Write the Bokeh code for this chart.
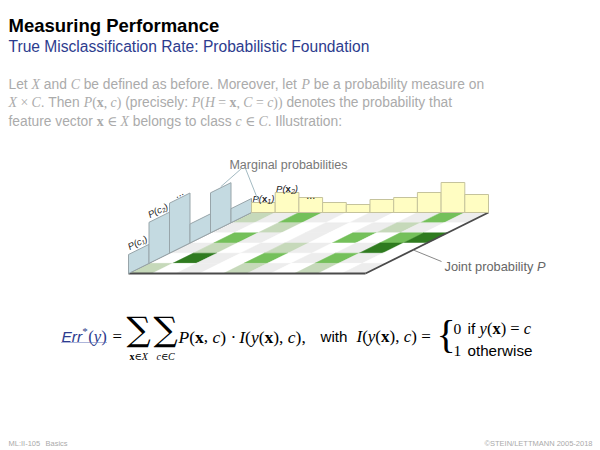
import math
from bokeh.plotting import figure
from bokeh.models import Range1d
from bokeh.core.properties import value
from bokeh.embed import file_html
from bokeh.resources import INLINE

# ---------------- data ----------------
class_marginals = [19, 41, 50, 19, 40, 14]          # P(c1) (front) ... P(c6) (back)
feature_marginals = [10, 20, 15, 10, 8, 13, 15, 20, 30, 18]   # P(x1) ... P(x10)
class_labels = ["P(c₁)", "P(c₂)", "..."]
feature_labels = ["1", "2", None]                    # subscripts for P(x_i); None -> "..."
# joint probability levels: rows from back (c6) to front (c1), columns x1..x10
# 0 white, 1 light grey, 2 pale green, 3 green, 4 dark green
joint_levels = [
    [2, 1, 3, 1, 0, 1, 0, 1, 3, 1],
    [1, 0, 2, 0, 1, 0, 1, 2, 1, 0],
    [0, 3, 1, 0, 1, 0, 3, 0, 3, 4],
    [1, 2, 0, 1, 2, 1, 0, 1, 4, 0],
    [0, 4, 1, 0, 3, 0, 1, 3, 1, 0],
    [2, 0, 1, 0, 2, 1, 0, 2, 0, 1],
]
level_colors = ["#ffffff", "#ededed", "#c6d9ba", "#74c05a", "#2f7b1f"]

title = "Measuring Performance"
subtitle = "True Misclassification Rate: Probabilistic Foundation"

# ---------------- font metrics (Arial / Times compatible) ----------------
def table(spec):
    t = {}
    for w, chars in spec.items():
        for ch in chars:
            t[ch] = w / 1000.0
    return t

ARIAL = table({278: " !,./:;If t[]\\", 222: "ijl'", 333: "()-r{}", 500: "cksvxyzJ?*",
               556: "abdeghnopquL_$0123456789", 584: "=+<>", 611: "FTZ", 667: "ABEKPSVXY",
               722: "CDHNRUw", 778: "GOQ", 833: "Mm", 944: "W", 737: "©"})
ARIALB = table({278: " .:;", 333: "()", 556: "abdeghnopqux0123456789"})
TIMES = table({250: " ,.·", 278: ":;ijlt", 333: "()-rfI", 444: "cesaz", 500: "0123456789bdghknopquvxy",
               564: "=+×", 480: "{}"})
TIMESI = table({250: " ,.", 333: "I()", 444: "cxyz", 500: "abd", 611: "XPE", 667: "C", 722: "H"})
TIMESB = table({250: " ,", 500: "x"})
DEJAVU = table({720: "∈", 713: "∑"})

FONTS = {
    "sans": ("Liberation Sans", "normal", ARIAL),
    "sansi": ("Liberation Sans", "italic", ARIAL),
    "sansb": ("Liberation Sans", "bold", ARIALB),
    "rm": ("Liberation Serif", "normal", TIMES),
    "it": ("Liberation Serif", "italic", TIMESI),
    "bf": ("Liberation Serif", "bold", TIMESB),
    "sym": ("DejaVu Serif", "normal", DEJAVU),
}

def width(txt, kind, size):
    tab = FONTS[kind][2]
    return sum(tab.get(ch, 0.55) for ch in txt) * size

def put(p, x, y, txt, kind, size, color, align="left", baseline="alphabetic", angle=0.0):
    font, style, _ = FONTS[kind]
    p.text(x=[x], y=[y], text=[txt], text_font=value(font), text_font_style=style,
           text_font_size=f"{size}px", text_color=color, text_align=align,
           text_baseline=baseline, angle=angle)

def runs(p, x, y, segs, size, color):
    """segs: tuples (text, kind[, color[, scale[, dy]]])"""
    for seg in segs:
        txt, kind = seg[0], seg[1]
        col = seg[2] if len(seg) > 2 and seg[2] else color
        sc = seg[3] if len(seg) > 3 else 1.0
        dy = seg[4] if len(seg) > 4 else 0.0
        s = size * sc
        lead = len(txt) - len(txt.lstrip(" "))
        core = txt.strip(" ")
        if core:
            put(p, x + width(txt[:lead], kind, s), y + dy, core, kind, s, col)
        x += width(txt, kind, s)
    return x

def runs_width(segs, size):
    return sum(width(s[0], s[1], size * (s[3] if len(s) > 3 else 1.0)) for s in segs)

# ---------------- figure ----------------
p = figure(width=600, height=450, x_range=Range1d(0, 600), y_range=Range1d(450, 0),
           output_backend="svg", toolbar_location=None, min_border=0,
           x_axis_location=None, y_axis_location=None)
p.grid.visible = False
p.outline_line_color = None
p.background_fill_color = "white"
p.border_fill_color = "white"

# title block
put(p, 8, 25, title, "sansb", 18.5, "#000000")
put(p, 8, 46, subtitle, "sans", 15.6, "#2d3c8e")

# paragraph
GRAY = "#ababab"
para = [
    [("Let ", "sans"), ("X", "it"), (" and ", "sans"), ("C", "it"),
     (" be defined as before. Moreover, let ", "sans"), ("P", "it"),
     (" be a probability measure on", "sans")],
    [("X", "it"), (" × ", "rm"), ("C", "it"), (". Then ", "sans"), ("P", "it"), ("(", "rm"),
     ("x", "bf"), (", ", "rm"), ("c", "it"), (")", "rm"), (" (precisely: ", "sans"), ("P", "it"),
     ("(", "rm"), ("H", "it"), (" = ", "rm"), ("x", "bf"), (", ", "rm"), ("C", "it"), (" = ", "rm"),
     ("c", "it"), ("))", "rm"), (" denotes the probability that", "sans")],
    [("feature vector ", "sans"), ("x", "bf"), (" ", "rm"), ("∈", "sym"), (" ", "rm"), ("X", "it"),
     (" belongs to class ", "sans"), ("c", "it"), (" ", "rm"), ("∈", "sym"), (" ", "rm"), ("C", "it"),
     (". Illustration:", "sans")],
]
for k, line in enumerate(para):
    runs(p, 8, 84 + 18.3 * k, line, 13.8, GRAY)

# ---------------- pseudo 3-D illustration ----------------
X0, Y0, DU, DVX, DVY = 251.0, 212.0, 23.7, 20.5, 10.17
NU, NV = len(feature_marginals), len(class_marginals)

def proj(u, v, h=0.0):
    return X0 + u * DU - v * DVX, Y0 + v * DVY - h

# joint probability grid
xs, ys, cols = [], [], []
for r, row in enumerate(joint_levels):
    for j, lvl in enumerate(row):
        pts = [proj(j, r), proj(j + 1, r), proj(j + 1, r + 1), proj(j, r + 1)]
        xs.append([q[0] for q in pts]); ys.append([q[1] for q in pts])
        cols.append(level_colors[lvl])
p.patches(xs, ys, fill_color=cols, line_color=cols, line_width=0.5)

# board edges
for (a, b, c_, w) in [((0, 0), (NU, 0), "#8c8c8c", 1.0), ((0, 0), (0, NV), "#8c8c8c", 1.0),
                      ((0, NV), (NU, NV), "#4a4a4a", 1.8), ((NU, 0), (NU, NV), "#4a4a4a", 1.8)]:
    pa, pb = proj(*a), proj(*b)
    p.line([pa[0], pb[0]], [pa[1], pb[1]], line_color=c_, line_width=w)

# class marginals (blue bars on left edge)
bx, by = [], []
for i, h in enumerate(class_marginals):
    vf, vb = NV - i, NV - i - 1
    pts = [proj(0, vf), proj(0, vb), proj(0, vb, h), proj(0, vf, h)]
    bx.append([q[0] for q in pts]); by.append([q[1] for q in pts])
p.patches(bx, by, fill_color="#c4dae1", line_color="#98a5aa", line_width=1)

# feature marginals (yellow bars on back edge)
yx, yy = [], []
for j, h in enumerate(feature_marginals):
    pts = [proj(j, 0), proj(j + 1, 0), proj(j + 1, 0, h), proj(j, 0, h)]
    yx.append([q[0] for q in pts]); yy.append([q[1] for q in pts])
p.patches(yx, yy, fill_color="#fffdc2", line_color="#c5c39c", line_width=1)

# rotated labels for class bars
ang = math.atan2(DVY, DVX)
for i, lab in enumerate(class_labels):
    tx, ty = proj(0, NV - i - 0.5, class_marginals[i])
    sz = 11 if lab == "..." else 9.5
    put(p, tx + 1, ty - 2, lab, "sansi", sz, "#222222", align="center", baseline="bottom", angle=ang)

# labels above feature bars
for j, sub in enumerate(feature_labels):
    tx, ty = proj(j + 0.5, 0, feature_marginals[j])
    if sub is None:
        put(p, tx, ty - 3, "...", "sans", 11, "#222222", align="center")
        continue
    segs = [("P(", "sansi"), ("x", "sansb"), (sub, "sansi", None, 0.75, 2.5), (")", "sansi")]
    w = runs_width(segs, 9.5)
    runs(p, tx - w / 2, ty - 4, segs, 9.5, "#222222")

# "Marginal probabilities" annotation
put(p, 288, 164, "Marginal probabilities", "sans", 12.5, "#777777", align="center")
e1 = proj(0, NV - 4.5, class_marginals[4])
e2 = proj(0.3, 0, feature_marginals[0])
p.line([241, e1[0]], [168, e1[1] - 1], line_color="#a3bac2", line_width=1)
p.line([245, e2[0]], [168, e2[1] - 1], line_color="#a3bac2", line_width=1)

# "Joint probability P" annotation
jp = proj(NU, 3.7)
runs(p, 444, 266, [("Joint probability ", "sans"), ("P", "sansi")], 12.8, "#666666")
p.line([jp[0] + 1, 441], [jp[1], 261], line_color="#888888", line_width=1)

# ---------------- formula ----------------
BLUE = "#2d3c8e"
FY = 336
MS = 17.5
x0 = 61
x = runs(p, x0, FY, [("Err", "sansi", BLUE)], 15.5, "#000")
x = runs(p, x, FY - 6, [("*", "rm", BLUE)], 11, "#000")
x = runs(p, x, FY, [("(", "rm", BLUE), ("y", "it", BLUE), (")", "rm", BLUE)], 16.8, "#000")
p.line([x0, x], [FY + 6, FY + 6], line_color="#5a6ab5", line_width=1, line_dash="1 1")
put(p, 112, FY, "=", "rm", 16.8, "#000")
sums = [(126, [("x", "bf"), ("∈", "sym"), ("X", "it")]), (153, [("c", "it"), ("∈", "sym"), ("C", "it")])]
for sx, sub in sums:
    sw = width("∑", "sym", 34)
    put(p, sx, FY - 8, "∑", "sym", 34, "#000")
    w = runs_width(sub, 10)
    runs(p, sx + sw / 2 - w / 2, FY + 20, sub, 10, "#000")
runs(p, 178, FY, [("P", "it"), ("(", "rm"), ("x", "bf"), (", ", "rm"), ("c", "it"), (")", "rm"),
                  (" · ", "rm"), ("I", "it"), ("(", "rm"), ("y", "it"), ("(", "rm"), ("x", "bf"),
                  ("), ", "rm"), ("c", "it"), ("),", "rm")], MS, "#000")
put(p, 320, FY, "with", "sans", 15.2, "#000")
runs(p, 356, FY, [("I", "it"), ("(", "rm"), ("y", "it"), ("(", "rm"), ("x", "bf"), ("), ", "rm"),
                  ("c", "it"), (")", "rm"), (" =", "rm")], 17, "#000")
put(p, 436, FY - 2, "{", "rm", 40, "#000")
put(p, 453, FY - 8, "0", "rm", 15.5, "#000")
put(p, 453, FY + 14, "1", "rm", 15.5, "#000")
xx = runs(p, 467, FY - 8, [("if ", "sans")], 15.5, "#000")
runs(p, xx, FY - 8, [("y", "it"), ("(", "rm"), ("x", "bf"), (")", "rm"), (" = ", "rm"), ("c", "it")], 16.5, "#000")
put(p, 467, FY + 14, "otherwise", "sans", 15.2, "#000")

# footer
put(p, 8, 443, "ML:II-105", "sans", 7.5, "#aaaaaa")
put(p, 45, 443, "Basics", "sans", 7.5, "#aaaaaa")
put(p, 592, 443, "©STEIN/LETTMANN 2005-2018", "sans", 7.5, "#aaaaaa", align="right")

open("out.html", "w").write(file_html(p, INLINE))
